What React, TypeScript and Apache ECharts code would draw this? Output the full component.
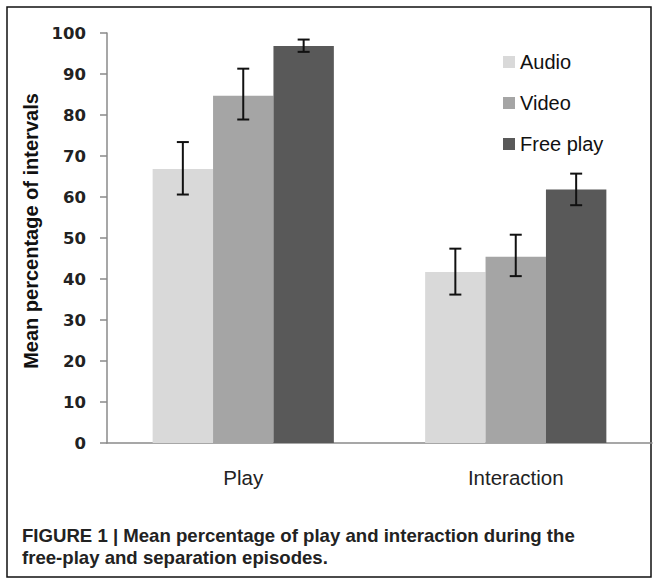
import React, { useEffect, useRef } from "react";
import * as echarts from "echarts";

const categories = ["Play", "Interaction"];
const seriesNames = ["Audio", "Video", "Free play"];
const audioValues = [66.8, 41.7];
const videoValues = [84.7, 45.4];
const freeValues = [96.8, 61.8];
const audioErr = [[60.6, 73.4], [36.2, 47.4]];
const videoErr = [[78.9, 91.3], [40.7, 50.8]];
const freeErr = [[95.4, 98.4], [58.0, 65.7]];
const yTicks = { min: 0, max: 100, interval: 10 };
const yName = "Mean percentage of intervals";
const captionLines = [
  "FIGURE 1 | Mean percentage of play and interaction during the",
  "free-play and separation episodes.",
];
const colors = ["#d9d9d9", "#a5a5a5", "#595959"];

const GAP = 0.335;

export default function App() {
  const ref = useRef<HTMLDivElement>(null);
  useEffect(() => {
    document.body.style.margin = "0";
    const chart = echarts.init(ref.current!, null, { renderer: "svg" });
    const values = [audioValues, videoValues, freeValues];
    const errs = [audioErr, videoErr, freeErr];
    const errData: any[] = [];
    errs.forEach((e, k) =>
      e.forEach((pair, i) => errData.push([i, pair[0], pair[1], k]))
    );
    const font = "'Liberation Sans', Arial, sans-serif";
    const wideFont = "'DejaVu Sans', Verdana, sans-serif";
    chart.setOption({
      animation: false,
      backgroundColor: "#ffffff",
      textStyle: { fontFamily: font },
      grid: { left: 107, right: 5, top: 33, bottom: 140, containLabel: false },
      legend: {
        orient: "vertical",
        left: 498,
        top: 47,
        itemWidth: 12,
        itemHeight: 12,
        itemGap: 21,
        icon: "rect",
        data: seriesNames,
        textStyle: { fontSize: 20, lineHeight: 20, color: "#111", fontFamily: font },
      },
      xAxis: {
        type: "category",
        data: categories,
        axisLine: { lineStyle: { color: "#8a8a8a", width: 1.5 } },
        axisTick: { show: false },
        axisLabel: { fontSize: 20.5, color: "#222", margin: 24, fontFamily: font },
      },
      yAxis: {
        type: "value",
        min: yTicks.min,
        max: yTicks.max,
        interval: yTicks.interval,
        splitLine: { show: false },
        axisLine: { show: true, lineStyle: { color: "#8a8a8a", width: 1.5 } },
        axisTick: { show: true, length: 7, lineStyle: { color: "#8a8a8a", width: 1.5 } },
        axisLabel: { fontSize: 16.5, fontWeight: "bold", color: "#222", margin: 21, fontFamily: wideFont },
      },
      series: [
        ...seriesNames.map((name, k) => ({
          name,
          type: "bar",
          data: values[k],
          barGap: "0%",
          barCategoryGap: GAP * 100 + "%",
          itemStyle: { color: colors[k] },
        })),
        {
          type: "custom",
          data: errData,
          z: 10,
          renderItem: (params: any, api: any) => {
            const cat = api.value(0);
            const k = api.value(3);
            const band = api.size([1, 0])[0];
            const bw = (band * (1 - GAP)) / 3;
            const lo = api.coord([cat, api.value(1)]);
            const hi = api.coord([cat, api.value(2)]);
            const x = lo[0] + (k - 1) * bw;
            const cap = 6;
            const style = { stroke: "#111", lineWidth: 2 };
            return {
              type: "group",
              children: [
                { type: "line", shape: { x1: x, y1: lo[1], x2: x, y2: hi[1] }, style },
                { type: "line", shape: { x1: x - cap, y1: lo[1], x2: x + cap, y2: lo[1] }, style },
                { type: "line", shape: { x1: x - cap, y1: hi[1], x2: x + cap, y2: hi[1] }, style },
              ],
            };
          },
        },
      ],
      graphic: [
        {
          type: "rect",
          shape: { x: 7, y: 7, width: 644, height: 570 },
          style: { fill: "none", stroke: "#111", lineWidth: 1.5 },
          silent: true,
        },
        {
          type: "text",
          x: 31,
          y: 231,
          rotation: Math.PI / 2,
          style: {
            text: yName,
            fontSize: 20,
            fontWeight: "bold",
            fill: "#111",
            fontFamily: font,
            align: "center",
            verticalAlign: "middle",
          },
        },
        ...captionLines.map((t, i) => ({
          type: "text",
          x: 22,
          y: 535 + i * 22.6,
          style: {
            text: t,
            fontSize: 18.6,
            fontWeight: "bold",
            fill: "#222",
            fontFamily: font,
            verticalAlign: "middle",
          },
        })),
      ],
    });
    return () => chart.dispose();
  }, []);
  return <div ref={ref} style={{ width: 657, height: 583 }} />;
}
